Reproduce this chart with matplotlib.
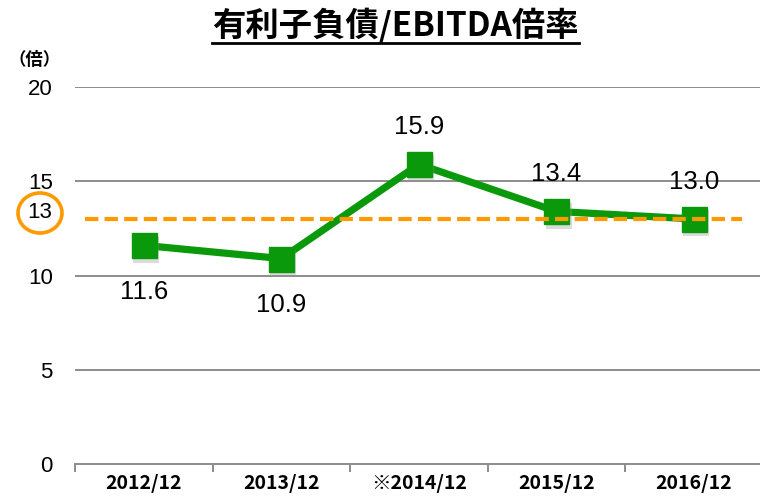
import numpy as np
import matplotlib.pyplot as plt
import matplotlib.transforms as mtransforms
from matplotlib.patches import Ellipse
from matplotlib.lines import Line2D

plt.rcParams['font.family'] = ['Noto Sans CJK JP', 'DejaVu Sans']

years = ['2012/12', '2013/12', '※2014/12', '2015/12', '2016/12']
ratio = [11.6, 10.9, 15.9, 13.4, 13.0]
target = 13
label_pos = ['below', 'below', 'above', 'above', 'above']

green = '#0a990a'
orange = '#ff9900'
grid_c = '#8c8c8c'

fig = plt.figure(figsize=(7.6, 4.99), dpi=100)
ax = fig.add_axes([0.0987, 0.0701, 0.905, 0.7555])

x = np.arange(len(years))
ax.set_xlim(-0.5, len(years) - 0.5)
ax.set_ylim(0, 20)

# grid
for v in [5, 10, 15, 20]:
    ax.axhline(v, color=grid_c, lw=1.4, zorder=1)
for s in ['top', 'right', 'left']:
    ax.spines[s].set_visible(False)
ax.spines['bottom'].set_color(grid_c)
ax.spines['bottom'].set_linewidth(1.4)

ax.plot(x, ratio, color=green, lw=5.2, zorder=3, solid_capstyle='butt')
# soft shadow under markers
shadow = mtransforms.offset_copy(ax.transData, fig=fig, x=1.5, y=-3, units='points')
ax.plot(x, ratio, ls='none', marker='s', ms=19, color='#999999', alpha=0.35,
        mew=0, transform=shadow, zorder=3.5)
ax.plot(x, ratio, ls='none', marker='s', ms=18, color=green, zorder=4)

ax.plot([-0.43, 4.35], [target, target], color=orange, lw=3,
        dashes=(3.2, 1.5), zorder=5)

for xi, v, pos in zip(x, ratio, label_pos):
    if pos == 'above':
        ax.text(xi, v + 1.35, f'{v:.1f}', ha='center', va='bottom', fontsize=18.5,
                family=['Liberation Sans'], zorder=6)
    else:
        ax.text(xi, v - 1.85, f'{v:.1f}', ha='center', va='top', fontsize=18.5,
                family=['Liberation Sans'], zorder=6)

ax.set_yticks([0, 5, 10, 15, 20])
ax.set_yticklabels(['0', '5', '10', '15', '20'], family=['Liberation Sans'],
                   fontsize=16)
ax.tick_params(axis='y', length=0, pad=16)

ax.set_xticks(x)
ax.set_xticklabels(years, fontsize=14, fontweight='bold')
ax.tick_params(axis='x', length=0, pad=7)
ax.set_xticks(np.arange(-0.5, len(years), 1), minor=True)
ax.tick_params(axis='x', which='minor', length=6, width=1.4, color=grid_c,
               direction='out')

# circled 13 on the y axis
fig.text(40 / 760, 1 - 213 / 499, '13', ha='center', va='center', fontsize=16,
         family=['Liberation Sans'])
fig.patches.append(Ellipse((40 / 760, 1 - 213 / 499), 44 / 760, 40 / 499,
                           transform=fig.transFigure, fill=False,
                           ec=orange, lw=2.6))

fig.text(0.045, 1 - 60 / 499, '（倍）', ha='center', va='center', fontsize=12.5,
         fontweight='bold')

title = fig.text(0.52, 1 - 25 / 499, '有利子負債/EBITDA倍率', ha='center',
                 va='center', fontsize=24, fontweight='bold')
fig.canvas.draw()
bb = title.get_window_extent().transformed(fig.transFigure.inverted())
fig.lines.append(Line2D([bb.x0, bb.x1], [bb.y0 - 0.002, bb.y0 - 0.002],
                        transform=fig.transFigure, color='k', lw=2))

fig.savefig('out.png', dpi=100)
